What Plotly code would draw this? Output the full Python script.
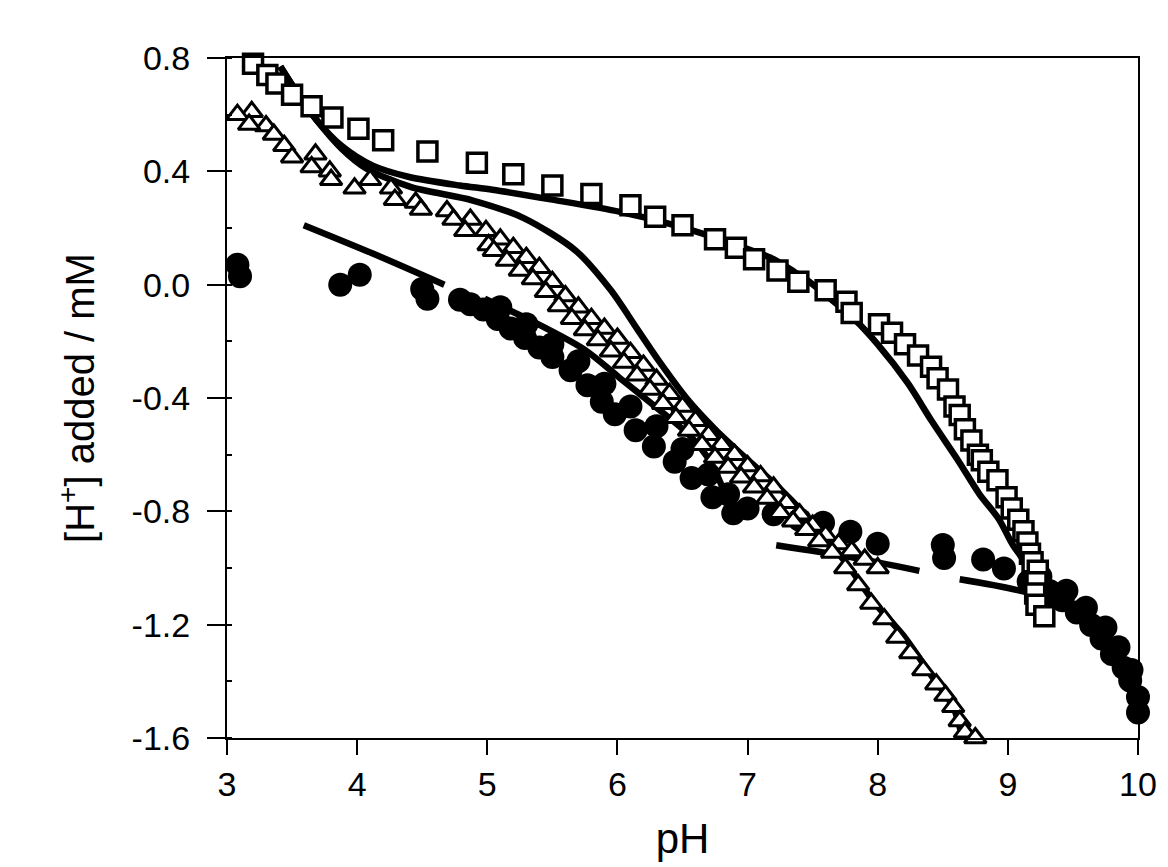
import plotly.graph_objects as go

# ---- data ----
sq_ph = [3.20, 3.31, 3.38, 3.50, 3.65, 3.81, 4.01, 4.20, 4.54, 4.92, 5.20, 5.50, 5.80, 6.10,
         6.29, 6.50, 6.75, 6.91, 7.05, 7.23, 7.39, 7.60, 7.76, 7.80, 8.01, 8.11, 8.21, 8.31,
         8.41, 8.46, 8.54, 8.59, 8.63, 8.67, 8.72, 8.77, 8.80, 8.85, 8.92, 8.99, 9.03, 9.08,
         9.12, 9.15, 9.17, 9.19, 9.23, 9.22, 9.21, 9.22, 9.28]
sq_h = [0.78, 0.74, 0.71, 0.67, 0.63, 0.59, 0.55, 0.51, 0.47, 0.43, 0.39, 0.35, 0.32, 0.28,
        0.24, 0.21, 0.16, 0.13, 0.09, 0.05, 0.01, -0.02, -0.06, -0.10, -0.14, -0.17, -0.21, -0.25,
        -0.29, -0.33, -0.37, -0.43, -0.46, -0.51, -0.55, -0.60, -0.62, -0.66, -0.69, -0.75, -0.79, -0.83,
        -0.87, -0.91, -0.95, -0.98, -1.01, -1.05, -1.09, -1.13, -1.17]

tri1_ph = [3.08, 3.17, 3.44, 3.50, 3.65, 3.80, 3.98, 4.29, 4.49, 4.74, 4.83, 5.01,
           5.05, 5.15, 5.25, 5.35, 5.45, 5.55, 5.65, 5.75, 5.85, 5.95, 6.05, 6.15, 6.25, 6.35,
           6.45, 6.55, 6.65, 6.75, 6.85, 6.95, 7.05, 7.15, 7.25, 7.35, 7.45, 7.55, 7.65, 7.75,
           7.85, 7.95, 8.05, 8.15, 8.25, 8.35, 8.45, 8.52, 8.58, 8.63, 8.67, 8.75]
tri1_h = [0.60, 0.565, 0.49, 0.45, 0.415, 0.37, 0.34, 0.30, 0.265, 0.23, 0.19, 0.14,
          0.12, 0.085, 0.05, 0.02, -0.025, -0.075, -0.12, -0.16, -0.195, -0.235, -0.275, -0.32, -0.37, -0.42,
          -0.47, -0.515, -0.565, -0.61, -0.645, -0.68, -0.715, -0.755, -0.805, -0.835, -0.865, -0.905, -0.945, -1.00,
          -1.06, -1.125, -1.18, -1.245, -1.30, -1.36, -1.41, -1.45, -1.49, -1.54, -1.58, -1.60]

tri2_ph = [3.19, 3.30, 3.36, 3.68, 3.79, 4.10, 4.26, 4.45, 4.69, 4.87, 4.99,
           5.10, 5.20, 5.30, 5.40, 5.50, 5.60, 5.70, 5.80, 5.90, 6.00, 6.10, 6.20, 6.30, 6.40,
           6.50, 6.60, 6.70, 6.80, 6.90, 7.00, 7.10, 7.20, 7.30, 7.40, 7.50, 7.60, 7.70, 7.80,
           7.90, 8.00]
tri2_h = [0.61, 0.56, 0.53, 0.46, 0.40, 0.37, 0.34, 0.29, 0.26, 0.23, 0.19,
          0.16, 0.13, 0.095, 0.06, 0.01, -0.04, -0.08, -0.12, -0.155, -0.19, -0.24, -0.285, -0.335, -0.385,
          -0.43, -0.48, -0.53, -0.565, -0.60, -0.64, -0.675, -0.715, -0.77, -0.81, -0.85, -0.885, -0.915, -0.94,
          -0.97, -1.00]

cir_ph = [3.08, 3.10, 3.87, 4.02, 4.50, 4.54, 4.79, 4.87, 4.97, 5.08, 5.18, 5.29, 5.40, 5.50,
          5.64, 5.77, 5.88, 5.98, 6.14, 6.28, 6.44, 6.57, 6.73, 6.89,
          5.10, 5.30, 5.50, 5.70, 5.90, 6.10, 6.30, 6.50, 6.70, 6.85,
          7.00, 7.20, 7.40, 7.58, 7.79, 8.00, 8.50, 8.51, 8.81, 8.97, 9.16, 9.32, 9.42, 9.53,
          9.64, 9.72, 9.80, 9.89, 9.94, 10.00, 10.00,
          9.25, 9.45, 9.60, 9.75, 9.85, 9.95]
cir_h = [0.07, 0.03, 0.00, 0.035, -0.015, -0.05, -0.053, -0.069, -0.088, -0.121, -0.155, -0.188, -0.222, -0.255,
         -0.302, -0.355, -0.413, -0.457, -0.514, -0.571, -0.625, -0.682, -0.75, -0.807,
         -0.08, -0.14, -0.21, -0.27, -0.35, -0.43, -0.50, -0.58, -0.67, -0.74,
         -0.79, -0.81, -0.83, -0.84, -0.872, -0.914, -0.919, -0.965, -0.97, -1.002, -1.048, -1.081, -1.114, -1.157,
         -1.201, -1.249, -1.304, -1.352, -1.397, -1.455, -1.51,
         -1.03, -1.08, -1.14, -1.21, -1.28, -1.36]

fitA_ph = [3.41, 3.55, 3.69, 3.88, 4.12, 4.40, 4.79, 5.04, 5.50, 6.02, 6.43, 6.82, 7.20, 7.36,
           7.46, 7.82, 8.00, 8.23, 8.42, 8.62, 8.78, 8.93, 9.04, 9.15, 9.26]
fitA_h = [0.77, 0.67, 0.58, 0.49, 0.42, 0.38, 0.35, 0.335, 0.30, 0.257, 0.211, 0.155, 0.09, 0.045,
          0.015, -0.122, -0.211, -0.347, -0.485, -0.622, -0.738, -0.827, -0.92, -0.989, -1.057]

fitB_ph = [3.41, 3.55, 3.69, 3.88, 4.07, 4.41, 4.89, 5.28, 5.68, 5.95, 6.15, 6.32, 6.53, 6.75,
           6.97, 7.24, 7.48, 7.75, 7.98, 8.20, 8.41, 8.58, 8.65]
fitB_h = [0.77, 0.67, 0.58, 0.48, 0.41, 0.345, 0.297, 0.235, 0.12, -0.02, -0.155, -0.27, -0.40, -0.51,
          -0.605, -0.716, -0.83, -0.978, -1.125, -1.24, -1.378, -1.49, -1.60]

fitC_ph = [3.59, 4.12, 4.67]
fitC_h = [0.21, 0.11, 0.00]
fitD_ph = [4.98, 5.35, 5.75, 6.02, 6.29, 6.55, 6.72, 6.88]
fitD_h = [-0.05, -0.13, -0.23, -0.33, -0.43, -0.53, -0.63, -0.80]
fitE_ph = [7.22, 7.77, 8.32]
fitE_h = [-0.92, -0.96, -1.01]
fitF_ph = [8.63, 9.17, 9.39]
fitF_h = [-1.04, -1.09, -1.14]

x_ticks = [3, 4, 5, 6, 7, 8, 9, 10]
y_ticks = [0.8, 0.4, 0.0, -0.4, -0.8, -1.2, -1.6]
y_ticktext = ["0.8", "0.4", "0.0", "-0.4", "-0.8", "-1.2", "-1.6"]

fig = go.Figure()

for xs, ys in [(fitA_ph, fitA_h), (fitB_ph, fitB_h), (fitC_ph, fitC_h),
               (fitD_ph, fitD_h), (fitE_ph, fitE_h), (fitF_ph, fitF_h)]:
    fig.add_trace(go.Scatter(x=xs, y=ys, mode="lines",
                             line=dict(color="black", width=6.5, shape="spline", smoothing=0.8),
                             hoverinfo="skip", cliponaxis=False))

fig.add_trace(go.Scatter(x=cir_ph, y=cir_h, mode="markers",
                         marker=dict(symbol="circle", size=24, color="black"), cliponaxis=False))
fig.add_trace(go.Scatter(x=tri2_ph, y=tri2_h, mode="markers",
                         marker=dict(symbol="triangle-up", size=19, color="white",
                                     line=dict(color="black", width=3)), cliponaxis=False))
fig.add_trace(go.Scatter(x=tri1_ph, y=tri1_h, mode="markers",
                         marker=dict(symbol="triangle-up", size=19, color="white",
                                     line=dict(color="black", width=3)), cliponaxis=False))
fig.add_trace(go.Scatter(x=sq_ph, y=sq_h, mode="markers",
                         marker=dict(symbol="square", size=19, color="white",
                                     line=dict(color="black", width=3.5)), cliponaxis=False))

fig.update_layout(
    width=1168, height=867,
    margin=dict(l=219, r=38, t=50, b=137),
    plot_bgcolor="white", paper_bgcolor="white",
    showlegend=False,
    font=dict(family="Liberation Sans, Arial, sans-serif", color="black"),
)
fig.update_xaxes(
    range=[3, 10], tickvals=x_ticks, ticktext=[str(v) for v in x_ticks],
    ticks="outside", ticklen=15, tickwidth=2, tickcolor="black",
    showline=True, linewidth=2, linecolor="black", mirror=True,
    showgrid=False, zeroline=False, tickfont=dict(size=34),
    title=dict(text="pH", font=dict(size=42), standoff=22),
)
fig.update_yaxes(
    range=[-1.6, 0.8], tickvals=y_ticks, ticktext=y_ticktext,
    ticks="outside", ticklen=18, tickwidth=2, tickcolor="black",
    showline=True, linewidth=2, linecolor="black", mirror=True,
    showgrid=False, zeroline=False, tickfont=dict(size=34), ticklabelstandoff=10,
    minor=dict(ticks="inside", ticklen=5, tickwidth=1.5, dtick=0.2, tick0=0, tickcolor="black"),
    title=dict(text="[H<sup>+</sup>] added / mM", font=dict(size=40), standoff=25),
)

fig.write_html("out.html")
